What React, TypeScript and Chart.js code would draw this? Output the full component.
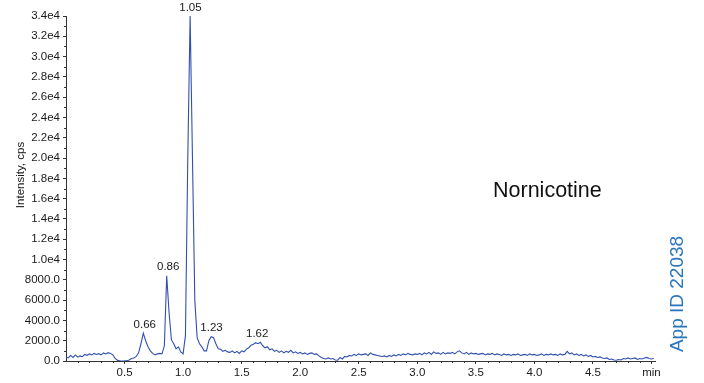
import { useEffect, useRef } from 'react';
import { Chart, registerables } from 'chart.js';

Chart.register(...registerables);

// Chromatogram sampling grid (minutes)
const SAMPLE_STEP = 0.02;

// Intensity (cps), one value every 0.02 min starting at 0.00 min
const intensity: number[] = [
  // 0.00 - 0.18
  400, 300, 550, 350, 600, 380, 500, 420, 650, 560,
  // 0.20 - 0.38
  700, 600, 750, 650, 720, 600, 800, 700, 820, 750,
  // 0.40 - 0.58
  600, 250, 60, 20, 0, 10, 30, 100, 250, 300,
  // 0.60 - 0.78
  450, 800, 1700, 2750, 2000, 1400, 1000, 750, 600, 700,
  // 0.80 - 0.98
  750, 700, 1500, 8400, 4800, 2100, 1700, 1200, 1400, 900,
  // 1.00 - 1.18
  700, 2500, 20000, 34000, 20000, 6000, 2300, 1700, 1400, 1000,
  // 1.20 - 1.38
  1000, 2000, 2400, 2300, 1700, 1200, 1150, 950, 1050, 900,
  // 1.40 - 1.58
  850, 1000, 800, 950, 750, 1000, 900, 1150, 1300, 1550,
  // 1.60 - 1.78
  1650, 1800, 1700, 1850, 1500, 1300, 1400, 1100, 1200, 950,
  // 1.80 - 1.98
  1050, 850, 1000, 800, 950, 850, 1050, 800, 900, 750,
  // 2.00 - 2.18
  850, 700, 800, 650, 750, 800, 650, 700, 500, 350,
  // 2.20 - 2.38
  250, 200, 300, 200, 250, 100, 80, 350, 200, 450,
  // 2.40 - 2.58
  400, 550, 500, 650, 550, 700, 600, 650, 700, 550,
  // 2.60 - 2.78
  800, 650, 600, 550, 500, 450, 500, 400, 550, 450,
  // 2.80 - 2.98
  600, 500, 650, 550, 700, 600, 750, 650, 600, 700,
  // 3.00 - 3.18
  650, 750, 600, 800, 700, 850, 650, 900, 750, 800,
  // 3.20 - 3.38
  650, 850, 700, 800, 750, 850, 700, 900, 1000, 800,
  // 3.40 - 3.58
  700, 850, 650, 800, 700, 750, 650, 700, 750, 600,
  // 3.60 - 3.78
  700, 650, 750, 600, 700, 650, 550, 700, 600, 650,
  // 3.80 - 3.98
  550, 650, 600, 700, 550, 600, 650, 550, 700, 600,
  // 4.00 - 4.18
  650, 550, 600, 700, 550, 650, 600, 700, 600, 650,
  // 4.20 - 4.38
  550, 700, 600, 650, 950, 700, 800, 600, 700, 550,
  // 4.40 - 4.58
  650, 500, 600, 450, 550, 400, 450, 350, 400, 300,
  // 4.60 - 4.78
  250, 300, 150, 200, 100, 70, 150, 100, 250, 200,
  // 4.80 - 4.98
  300, 200, 250, 300, 150, 250, 200, 300, 350, 250,
  // 5.00 - 5.02
  200, 250,
];

const peakTimes = [0.66, 0.86, 1.05, 1.23, 1.62];
const peakHeights = [2750, 8400, 34000, 2400, 1850];
const peakLabels = ['0.66', '0.86', '1.05', '1.23', '1.62'];

const xTickValues = [0.5, 1.0, 1.5, 2.0, 2.5, 3.0, 3.5, 4.0, 4.5, 5.0];
const xTickLabels = ['0.5', '1.0', '1.5', '2.0', '2.5', '3.0', '3.5', '4.0', '4.5', 'min'];
const X_MIN = 0;
const X_MAX = 5.03;
const Y_MIN = 0;
const Y_MAX = 34000;
const Y_STEP = 2000;

const yTitle = 'Intensity, cps';
const compoundName = 'Nornicotine';
const appId = 'App ID 22038';

const FONT = '"Liberation Sans", Arial, Helvetica, sans-serif';
const TEXT = '#1a1a1a';
const AXIS = '#333333';

function formatY(v: number): string {
  if (v < 10000) return v.toFixed(1);
  return (v / 10000).toFixed(1) + 'e4';
}

const overlayPlugin = {
  id: 'overlay',
  afterDraw(chart: any) {
    const { ctx, chartArea } = chart;
    const x = chart.scales.x;
    const y = chart.scales.y;
    ctx.save();
    // minor ticks
    ctx.strokeStyle = AXIS;
    ctx.lineWidth = 1;
    ctx.beginPath();
    for (let v = Y_STEP / 2; v < Y_MAX; v += Y_STEP) {
      const py = Math.round(y.getPixelForValue(v)) + 0.5;
      ctx.moveTo(chartArea.left - 2, py);
      ctx.lineTo(chartArea.left, py);
    }
    for (let k = 1; k <= 50; k++) {
      if (k % 5 === 0) continue;
      const v = k / 10;
      if (v > X_MAX) break;
      const px = Math.round(x.getPixelForValue(v)) + 0.5;
      ctx.moveTo(px, chartArea.bottom);
      ctx.lineTo(px, chartArea.bottom + 2);
    }
    ctx.stroke();

    // peak labels
    ctx.fillStyle = TEXT;
    ctx.font = `11.5px ${FONT}`;
    ctx.textAlign = 'center';
    ctx.textBaseline = 'middle';
    peakTimes.forEach((t, i) => {
      const px = x.getPixelForValue(t) + 1.5;
      const py = y.getPixelForValue(peakHeights[i]) - 8.5;
      ctx.fillText(peakLabels[i], px, py);
    });

    // compound name
    ctx.font = `21.5px ${FONT}`;
    ctx.textAlign = 'left';
    ctx.textBaseline = 'alphabetic';
    ctx.fillStyle = '#111111';
    ctx.fillText(compoundName, 493, 197);

    // y-axis title
    ctx.save();
    ctx.translate(23.5, 175);
    ctx.rotate(-Math.PI / 2);
    ctx.font = `11.5px ${FONT}`;
    ctx.fillStyle = TEXT;
    ctx.textAlign = 'center';
    ctx.textBaseline = 'alphabetic';
    ctx.fillText(yTitle, 0, 0);
    ctx.restore();

    // App ID
    ctx.save();
    ctx.translate(683, 294);
    ctx.rotate(-Math.PI / 2);
    ctx.font = `19px ${FONT}`;
    ctx.fillStyle = '#2a76bb';
    ctx.textAlign = 'center';
    ctx.textBaseline = 'alphabetic';
    ctx.fillText(appId, 0, 0);
    ctx.restore();

    ctx.restore();
  },
};

export default function App() {
  const canvasRef = useRef<HTMLCanvasElement | null>(null);

  useEffect(() => {
    const canvas = canvasRef.current;
    if (!canvas) return;
    const points = intensity.map((v, i) => ({ x: +(i * SAMPLE_STEP).toFixed(2), y: v }));
    const chart = new Chart(canvas, {
      type: 'line',
      data: {
        datasets: [
          {
            data: points,
            borderColor: '#3050b0',
            borderWidth: 1.1,
            pointRadius: 0,
            tension: 0,
            fill: false,
          },
        ],
      },
      options: {
        responsive: false,
        animation: false,
        devicePixelRatio: 1,
        layout: { padding: { top: 16, right: 49, left: 0, bottom: 0 } },
        plugins: {
          legend: { display: false },
          tooltip: { enabled: false },
          title: { display: false },
        },
        scales: {
          x: {
            type: 'linear',
            min: X_MIN,
            max: X_MAX,
            afterBuildTicks: (scale: any) => {
              scale.ticks = xTickValues.map((v) => ({ value: v }));
            },
            afterFit: (scale: any) => {
              scale.height = 22;
            },
            ticks: {
              autoSkip: false,
              maxRotation: 0,
              padding: 2,
              color: TEXT,
              font: { family: FONT, size: 11.5 },
              callback: (v: any) => {
                const idx = xTickValues.findIndex((t) => Math.abs(t - Number(v)) < 1e-6);
                return idx >= 0 ? xTickLabels[idx] : '';
              },
            },
            grid: {
              display: true,
              drawOnChartArea: false,
              drawTicks: true,
              tickLength: 3,
              color: AXIS,
            },
            border: { display: true, color: AXIS, width: 1 },
          },
          y: {
            type: 'linear',
            min: Y_MIN,
            max: Y_MAX,
            afterFit: (scale: any) => {
              scale.width = 66;
            },
            ticks: {
              stepSize: Y_STEP,
              autoSkip: false,
              padding: 3,
              color: TEXT,
              font: { family: FONT, size: 11.5 },
              callback: (v: any) => formatY(Number(v)),
            },
            grid: {
              display: true,
              drawOnChartArea: false,
              drawTicks: true,
              tickLength: 3,
              color: AXIS,
            },
            border: { display: true, color: AXIS, width: 1 },
          },
        },
      },
      plugins: [overlayPlugin],
    } as any);
    return () => chart.destroy();
  }, []);

  return (
    <div style={{ position: 'fixed', left: 0, top: 0, width: 704, height: 383, background: '#ffffff' }}>
      <canvas ref={canvasRef} width={704} height={383} style={{ display: 'block', width: 704, height: 383 }} />
    </div>
  );
}
